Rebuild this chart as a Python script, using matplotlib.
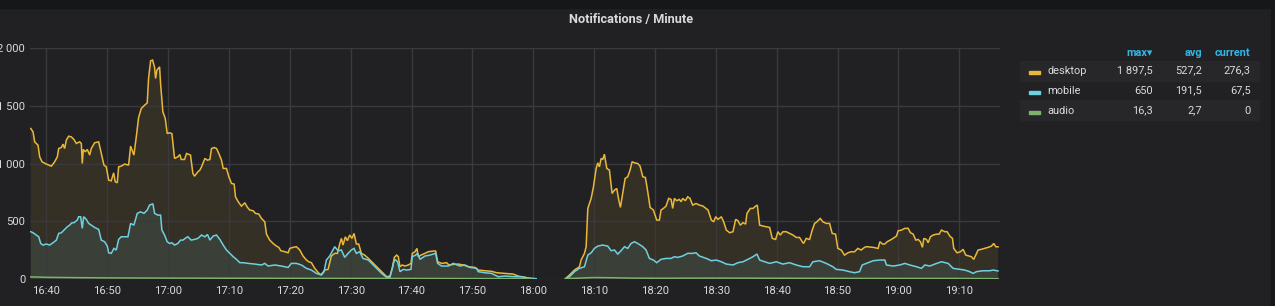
import numpy as np
import pandas as pd
import matplotlib
matplotlib.use("Agg")
import matplotlib.pyplot as plt
import matplotlib.dates as mdates
from matplotlib.patches import Rectangle

# ---------------- data (minutes since 16:40, values per minute) ----------------
base_time = "2020-01-01 16:40"
nan = float("nan")

desktop_min = [-2.56, -2.18, -1.91, -1.36, -1.09, -0.70, 0.0, 0.83, 1.37, 1.81, 2.03, 2.47, 2.74, 3.01, 3.29, 3.67, 4.11, 4.55, 4.93, 5.48, 5.75, 5.91, 6.08, 6.41, 6.74, 7.12, 7.39, 7.94, 8.60, 9.03, 9.47, 9.85, 10.24, 10.67, 11.06, 11.33, 11.66, 11.88, 12.31, 12.86, 13.52, 13.85, 14.39, 14.78, 15.16, 15.60, 16.14, 16.58, 16.80, 17.13, 17.46, 17.79, 17.95, 18.17, 18.61, 18.77, 19.15, 19.54, 19.86, 20.25, 20.63, 21.07, 21.61, 21.94, 22.16, 22.71, 23.04, 23.69, 24.08, 24.35, 24.90,
               25.23, 25.50, 26.05, 26.48, 26.87, 27.14, 27.58, 27.96, 28.34, 28.78, 29.06, 29.60, 29.99, 30.42, 30.86, 31.08, 31.52, 32.06, 32.61, 33.05, 33.43, 33.98, 34.36, 34.91, 35.35, 35.89, 36.17, 36.71, 37.26, 37.81, 38.19, 38.52, 39.18, 39.72, 40.00, 40.54, 41.09, 41.64, 42.18, 42.73, 43.11, 43.55, 44.10, 44.54, 44.92, 45.19, 45.74, 46.29, 46.83, 47.38, 47.82, 48.20, 48.48, 48.75, 49.13, 49.46, 49.84, 50.23, 50.55, 50.94, 51.32, 51.76, 52.30,
               52.91, 54.00, 55.09, 55.92, 56.46, 56.85, 57.17, 57.56, 57.83, 58.10, 58.49, 58.93, 59.47, 59.91, 60.13, 60.57, 60.89, 61.11, 61.55, 62.21, 62.75, 63.57, 63.96, 64.29, 64.94, 65.76, 66.15, 66.86, 67.68, 68.50, 69.32, 70.41, 70.96, 72.05, 73.15, 73.97, 75.33, 76.70, 77.52, 78.62, 79.71,
               82.0,
               85.29, 85.95, 86.77, 87.59, 87.86, 88.41, 88.69, 88.96, 89.51, 89.89, 90.33, 90.60, 90.87, 91.15, 91.42, 91.69, 92.08, 92.51, 92.95, 93.34, 93.72, 94.05, 94.32, 94.70, 95.09, 95.52, 95.91, 96.23, 96.62, 97.16, 97.55, 97.99, 98.42, 98.81, 99.19, 99.74, 100.06, 100.28, 100.72, 100.99, 101.38, 101.81, 102.25, 102.64, 102.91, 103.18, 103.56, 104.00, 104.28, 104.55, 104.99, 105.37, 105.75, 106.19, 106.74, 107.29,
               107.89, 108.71, 109.26, 109.64, 109.97, 110.35, 110.90, 111.28, 111.72, 112.27, 112.81, 113.25, 113.63, 114.02, 114.45, 114.89, 115.11, 115.66, 116.10, 116.53, 116.81, 117.19, 117.74, 118.28, 118.83, 119.27, 119.81, 120.20, 120.58, 121.02, 121.56, 122.11, 122.66, 123.21, 123.75, 124.19, 124.41, 124.85, 125.40, 125.83, 126.22, 126.60, 127.15, 127.58, 128.13, 128.68, 129.11, 129.66, 130.04, 130.59, 131.14, 131.69, 132.23, 132.78, 133.33, 133.87, 134.42,
               134.75, 135.84, 136.66, 136.94, 137.38, 137.76, 138.14, 138.85, 139.67, 139.95, 140.49, 141.04, 141.59, 141.97, 142.41, 142.85, 143.23, 143.61, 143.94, 144.16, 144.60, 144.87, 145.25, 145.69, 146.24, 146.68, 147.06, 147.61, 147.99, 148.43, 148.87, 149.08, 149.63, 150.18, 150.62, 151.05, 151.60, 151.98, 152.37, 152.69, 153.08, 153.62, 154.17, 154.72, 155.27, 155.65, 155.98, 156.36]
desktop_val = [1304, 1275, 1188, 1159, 1058, 1015, 995, 977, 1015, 1058, 1130, 1139, 1168, 1130, 1203, 1237, 1231, 1208, 1174, 1188, 1174, 1000, 1122, 1101, 1122, 1073, 1130, 1180, 1188, 1087, 986, 971, 856, 850, 919, 841, 833, 971, 977, 995, 986, 1151, 1073, 1231, 1399, 1477, 1506, 1526, 1738, 1891, 1897.5, 1833, 1738, 1810, 1839, 1694, 1448, 1391, 1260, 1266, 1260, 1044, 1058, 1078, 1035, 1035, 1087, 1073, 914, 890, 928,
               943, 971, 1044, 1029, 1035, 1130, 1139, 1130, 1087, 1029, 957, 957, 885, 827, 821, 711, 668, 630, 659, 619, 596, 590, 567, 561, 523, 494, 387, 335, 306, 283, 272, 243, 234, 225, 263, 272, 278, 249, 197, 162, 147, 139, 90, 61, 40, 38, 75, 81, 197, 220, 220, 301, 350, 292, 364, 330, 379, 350, 393, 301, 301, 220, 205,
               176, 119, 61, 17, 23, 90, 185, 205, 191, 104, 119, 110, 119, 133, 220, 234, 263, 191, 205, 220, 234, 240, 240, 147, 133, 139, 119, 124, 127, 119, 104, 98, 75, 69, 64, 52, 46, 40, 23, 12, 0,
               nan,
               0, 32, 75, 104, 162, 220, 278, 610, 697, 798, 957, 1006, 971, 1044, 1035, 1081, 957, 943, 740, 769, 783, 682, 619, 740, 870, 885, 943, 1015, 1006, 1000, 977, 885, 879, 755, 619, 596, 544, 509, 509, 596, 610, 630, 697, 688, 610, 697, 677, 688, 668, 697, 677, 711, 697, 639, 653, 639,
               630, 596, 509, 494, 538, 515, 538, 494, 422, 399, 408, 515, 503, 465, 486, 474, 567, 610, 610, 630, 639, 465, 457, 451, 445, 350, 341, 408, 379, 408, 408, 393, 379, 358, 358, 321, 306, 350, 341, 422, 480, 494, 523, 494, 480, 480, 393, 387, 263, 249, 205, 225, 234, 234, 263, 249, 272,
               278, 272, 263, 321, 301, 301, 321, 341, 370, 416, 422, 437, 437, 399, 387, 335, 341, 321, 272, 350, 341, 312, 364, 379, 387, 387, 422, 408, 408, 370, 350, 263, 225, 234, 255, 205, 197, 191, 168, 205, 249, 255, 263, 272, 283, 306, 278, 276.3]

mobile_min = [-2.56, -2.18, -1.64, -1.25, -0.92, -0.54, 0.0, 0.55, 1.10, 1.65, 2.03, 2.47, 3.01, 3.45, 3.83, 4.22, 4.55, 5.09, 5.31, 5.64, 5.91, 6.13, 6.57, 6.95, 7.39, 7.94, 8.60, 9.03, 9.58, 10.02, 10.24, 10.67, 11.11, 11.49, 11.88, 12.31, 12.86, 13.41, 13.85, 14.39, 14.94, 15.49, 16.04, 16.58, 16.96, 17.51, 17.79, 18.33, 18.77, 18.99, 19.43, 19.86, 20.25, 20.63, 21.07, 21.61, 22.05, 22.44, 22.82, 23.25, 23.80, 24.35, 24.90,
              25.50, 26.05, 26.48, 26.87, 27.41, 27.96, 28.51, 29.06, 29.60, 30.15, 30.70, 31.24, 31.79, 32.34, 33.16, 34.25, 35.35, 35.89, 36.44, 37.54, 38.63, 39.72, 40.27, 41.09, 41.91, 42.73, 43.55, 44.37, 45.19, 45.63, 46.01, 46.56, 47.38, 47.93, 48.48, 49.02, 49.57, 50.12, 50.55, 50.94, 51.49, 52.03,
              52.91, 54.00, 55.09, 55.92, 56.46, 57.01, 57.28, 57.72, 58.10, 58.65, 59.20, 59.91, 60.13, 60.67, 61.00, 61.39, 62.21, 63.02, 63.96, 64.29, 64.94, 66.04, 66.86, 67.95, 68.77, 69.59, 70.69, 70.96, 72.05, 73.15, 74.24, 75.33, 76.98, 78.07, 79.16, 79.71, 80.48,
              82.0,
              85.29, 85.95, 86.77, 87.59, 88.41, 88.96, 89.51, 90.05, 90.60, 91.42, 92.24, 92.79, 93.34, 93.88, 94.43, 94.98, 95.52, 96.07, 96.62, 97.16, 97.99, 98.53, 99.08, 99.74, 100.28, 100.99, 101.81, 102.64, 103.18, 103.73, 104.55, 105.37, 106.19, 106.74, 107.29,
              107.62, 108.44, 109.26, 110.08, 110.90, 111.72, 112.81, 113.63, 114.45, 115.27, 116.10, 116.75, 117.19, 118.01, 118.83, 119.92, 121.02, 122.11, 123.21, 124.30, 125.40, 125.94, 127.04, 128.13, 129.22, 129.77, 130.86, 131.96, 132.78, 133.60, 134.04, 134.70,
              135.02, 135.84, 136.94, 137.76, 138.03, 139.13, 140.22, 141.04, 141.86, 142.96, 143.78, 144.33, 145.14, 145.97, 147.06, 148.16, 148.97, 150.07, 150.89, 151.71, 152.26, 152.80, 153.90, 154.99, 155.54, 156.36]
mobile_val = [408, 399, 379, 364, 306, 292, 301, 292, 312, 335, 393, 399, 428, 451, 465, 486, 486, 509, 538, 538, 437, 538, 515, 480, 465, 445, 428, 335, 321, 283, 225, 220, 263, 249, 341, 364, 364, 364, 480, 465, 567, 581, 567, 596, 639, 650, 567, 552, 552, 422, 379, 321, 306, 312, 292, 306, 335, 335, 350, 364, 335, 341, 350,
              379, 364, 384, 335, 370, 379, 341, 292, 249, 220, 191, 168, 139, 139, 133, 127, 119, 133, 110, 119, 110, 98, 133, 133, 119, 90, 75, 46, 32, 61, 162, 197, 278, 243, 249, 185, 220, 249, 263, 220, 234, 176,
              162, 104, 46, 12, 12, 133, 168, 147, 61, 81, 75, 81, 191, 205, 220, 168, 197, 205, 220, 133, 110, 110, 133, 110, 119, 98, 90, 61, 52, 46, 17, 23, 17, 17, 6, 4, 0,
              nan,
              0, 17, 61, 90, 104, 205, 225, 263, 283, 292, 283, 243, 249, 214, 243, 278, 263, 306, 321, 306, 278, 249, 176, 162, 139, 168, 176, 176, 191, 185, 197, 220, 220, 225, 197,
              191, 176, 156, 162, 147, 127, 119, 139, 147, 168, 191, 214, 162, 147, 133, 147, 127, 139, 119, 104, 104, 147, 156, 133, 104, 81, 75, 61, 52, 61, 119, 133,
              139, 156, 162, 162, 119, 110, 119, 133, 119, 104, 90, 119, 110, 127, 147, 133, 90, 81, 75, 61, 46, 61, 69, 69, 75, 67.5]

audio_min = [-2.56, 0.0, 5.0, 10.0, 20.0, 30.0, 40.0, 50.0, 60.0, 70.0, 79.71, 82.0, 85.29, 88.0, 90.0, 93.0, 96.0, 100.0, 110.0, 120.0, 130.0, 140.0, 150.0, 156.36]
audio_val = [16.3, 12, 9, 7, 5, 4, 3, 2, 2, 1, 0, nan, 0, 6, 10, 8, 5, 4, 5, 4, 3, 2, 2, 0]

series_names = ["desktop", "mobile", "audio"]
legend_max = [1897.5, 650, 16.3]
legend_avg = [527.2, 191.5, 2.7]
legend_current = [276.3, 67.5, 0]
y_ticks = [0, 500, 1000, 1500, 2000]
title = "Notifications / Minute"

# ---------------- style ----------------
W, H = 1275, 306
BG = "#212124"
PAGE = "#161719"
TXT = "#d8d9da"
GRID = "#3a3a3c"
colors = ["#EAB839", "#6ED0E0", "#7EB26D"]
FONT = ["Roboto", "DejaVu Sans"]
plt.rcParams["font.family"] = FONT

fig = plt.figure(figsize=(W / 100, H / 100), dpi=100, facecolor=BG)

def fx(x):
    return x / W

def fy(y):
    return 1 - y / H

# page strips
fig.patches.append(Rectangle((0, fy(8)), 1, 8 / H, transform=fig.transFigure, color=PAGE, zorder=0))
fig.patches.append(Rectangle((fx(1271), 0), 4 / W, 1, transform=fig.transFigure, color=PAGE, zorder=0))

left, right, top, bottom = 30, 1000, 48.3, 278.7
ax = fig.add_axes([fx(left), fy(bottom), (right - left) / W, (bottom - top) / H])
ax.set_facecolor(BG)

t0 = pd.Timestamp(base_time)
def to_time(mins):
    return t0 + pd.to_timedelta(np.array(mins), unit="m")

series = [(desktop_min, desktop_val), (mobile_min, mobile_val), (audio_min, audio_val)]
for (tm, vals), c in zip(series, colors):
    tt = to_time(tm)
    v = np.array(vals, dtype=float)
    ax.fill_between(tt, v, 0, where=~np.isnan(v), color=c, alpha=0.1, linewidth=0, interpolate=False)
    ax.plot(tt, v, color=c, lw=1.1, solid_joinstyle="miter")

ax.set_ylim(0, 2000)
ax.set_xlim(t0 + pd.Timedelta(minutes=-2.68), t0 + pd.Timedelta(minutes=156.68))
ax.set_yticks(y_ticks)
ax.set_yticklabels([f"{v:,}".replace(",", " ") for v in y_ticks])
ax.xaxis.set_major_locator(mdates.MinuteLocator(byminute=range(0, 60, 10)))
ax.xaxis.set_major_formatter(mdates.DateFormatter("%H:%M"))
ax.grid(True, color=GRID, lw=1.0)
ax.tick_params(axis="both", length=0, colors=TXT, labelsize=8.1)
ax.tick_params(axis="y", pad=3.5)
ax.tick_params(axis="x", pad=5.5)
for s in ax.spines.values():
    s.set_visible(False)

# title
fig.text(fx(631), fy(19.3), title, ha="center", va="center", color=TXT, fontsize=9.2, fontweight="bold")

# legend table
HDR = "#33b5e5"
col_right = [1152.5, 1202, 1250.5]
fig.text(fx(col_right[0]), fy(53), "max\u25BE", ha="right", va="center", color=HDR, fontsize=7.8, fontweight="bold")
fig.text(fx(col_right[1]), fy(53), "avg", ha="right", va="center", color=HDR, fontsize=7.8, fontweight="bold")
fig.text(fx(col_right[2]), fy(53), "current", ha="right", va="center", color=HDR, fontsize=7.8, fontweight="bold")

def fmt(v):
    if float(v).is_integer():
        s = f"{int(v):,}"
    else:
        s = f"{v:,.1f}"
    return s.replace(",", " ").replace(".", ",")

row_y = [70.7, 90.7, 110.5]
for i, name in enumerate(series_names):
    cy = row_y[i]
    if i % 2 == 0:
        fig.patches.append(Rectangle((fx(1020), fy(cy + 10)), 239 / W, 20 / H,
                                     transform=fig.transFigure, color="#27272a", zorder=0.5))
    fig.patches.append(Rectangle((fx(1029), fy(cy + 3)), 11 / W, 3 / H,
                                 transform=fig.transFigure, color=colors[i], zorder=1))
    fig.text(fx(1047), fy(cy), name, ha="left", va="center", color=TXT, fontsize=7.9)
    for cr, vals in zip(col_right, [legend_max, legend_avg, legend_current]):
        fig.text(fx(cr), fy(cy), fmt(vals[i]), ha="right", va="center", color=TXT, fontsize=7.9)

fig.savefig("out.png", dpi=100, facecolor=BG)
